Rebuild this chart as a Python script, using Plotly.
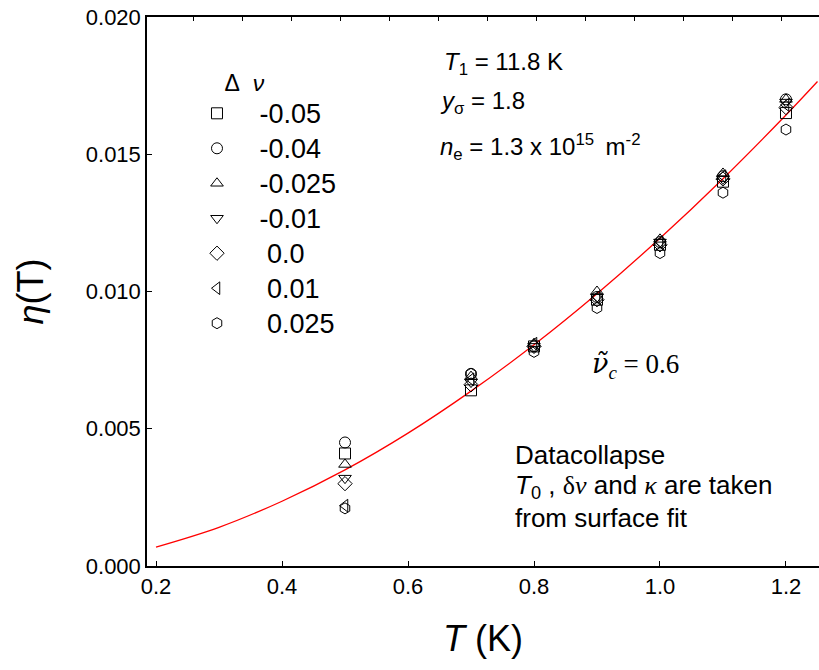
import plotly.graph_objects as go

# Temperatures at which eta(T) was collapsed
T = [0.5, 0.7, 0.8, 0.9, 1.0, 1.1, 1.2]

# Filling-factor offsets and the collapsed eta(T) values for each
dnu_labels = ["-0.05", "-0.04", "-0.025", "-0.01", "0.0", "0.01", "0.025"]
eta_m005 = [0.0041, 0.0064, 0.0080, 0.0097, 0.0117, 0.0140, 0.0165]
eta_m004 = [0.0045, 0.0070, 0.0080, 0.0098, 0.0118, 0.0142, 0.0170]
eta_m0025 = [0.0037, 0.0069, 0.0081, 0.0100, 0.0119, 0.0143, 0.0170]
eta_m001 = [0.0032, 0.0067, 0.0080, 0.0098, 0.0118, 0.0141, 0.0169]
eta_0 = [0.0030, 0.0066, 0.0080, 0.0097, 0.0117, 0.0141, 0.0167]
eta_p001 = [0.0022, 0.0068, 0.0081, 0.0098, 0.0118, 0.0142, 0.0168]
eta_p0025 = [0.0021, 0.0070, 0.0078, 0.0094, 0.0114, 0.0136, 0.0159]

# Fitted curve
fit_T = [0.2, 0.3, 0.4, 0.5, 0.6, 0.7, 0.8, 0.9, 1.0, 1.1, 1.2, 1.25]
fit_eta = [0.00069, 0.00141, 0.00236, 0.00350, 0.00484, 0.00637,
           0.00806, 0.00992, 0.01194, 0.01411, 0.01643, 0.01765]

series = [eta_m005, eta_m004, eta_m0025, eta_m001, eta_0, eta_p001, eta_p0025]
symbols = ["square-open", "circle-open", "triangle-up-open", "triangle-down-open",
           "diamond-open", "triangle-left-open", "hexagon-open"]
pads = [3, 3, 3, 3, 4, 4, 4]

FONT = "Liberation Sans, Arial, sans-serif"
SERIF = "Liberation Serif, Times New Roman, serif"

fig = go.Figure()

fig.add_trace(go.Scatter(x=fit_T, y=fit_eta, mode="lines", line=dict(color="red", width=1.3),
                         line_shape="spline", showlegend=False, hoverinfo="skip"))

for vals, sym, lab, pad in zip(series, symbols, dnu_labels, pads):
    fig.add_trace(go.Scatter(
        x=T, y=vals, mode="markers",
        name="<span style='font-size:27px'>" + "\u00a0" * pad + lab + "</span>",
        marker=dict(symbol=sym, size=11, color="black", line=dict(width=1, color="black")),
    ))

# invisible trace carrying the top axis
fig.add_trace(go.Scatter(x=[0, 13.714], y=[0, 0], xaxis="x2", mode="markers",
                         marker=dict(opacity=0), showlegend=False, hoverinfo="skip"))

fig.update_layout(
    width=819, height=670,
    margin=dict(l=147, r=0, t=17, b=104),
    paper_bgcolor="white", plot_bgcolor="white",
    font=dict(family=FONT, color="black", size=22),
    xaxis=dict(range=[0.1857, 1.2524], tickvals=[0.2, 0.4, 0.6, 0.8, 1.0, 1.2],
               ticktext=["0.2", "0.4", "0.6", "0.8", "1.0", "1.2"],
               showline=True, linecolor="black", linewidth=1.5, ticks="inside", ticklen=5,
               tickcolor="black", showgrid=False, zeroline=False,
               tickfont=dict(size=22)),
    xaxis2=dict(range=[0, 13.714], overlaying="x", side="top", tick0=0.939, dtick=1,
                showline=True, linecolor="black", linewidth=1.5, ticks="inside", ticklen=4,
                tickcolor="black", showticklabels=False, showgrid=False, zeroline=False),
    yaxis=dict(range=[0, 0.020], tickvals=[0, 0.005, 0.010, 0.015, 0.020],
               ticktext=["0.000", "0.005", "0.010", "0.015", "0.020"],
               showline=True, linecolor="black", linewidth=1.5, ticks="inside", ticklen=5,
               tickcolor="black", showgrid=False, zeroline=False,
               tickfont=dict(size=22)),
    legend=dict(x=0.0744, y=0.92, xanchor="left", yanchor="top",
                bgcolor="rgba(0,0,0,0)", borderwidth=0,
                font=dict(size=24.6, family=FONT),
                title=dict(text="\u00a0\u00a0\u00a0\u00a0\u0394\u00a0\u00a0<i>\u03bd</i>",
                           font=dict(size=23, family=FONT))),
    showlegend=True,
)

greek = "font-family:Liberation Serif, Times New Roman, serif"
ann = [
    dict(text="<i>\u03b7</i>(T)", xref="paper", yref="paper", x=0, y=0.5,
         xshift=-117, xanchor="center", yanchor="middle", textangle=-90,
         font=dict(size=36), showarrow=False),
    dict(text="<i>T</i> (K)", xref="paper", yref="paper", x=0.5, y=0,
         yshift=-72, xanchor="center", yanchor="middle", font=dict(size=36), showarrow=False),
    dict(text="<i>T</i><sub>1</sub> = 11.8 K", x=0.654, y=0.01832, xanchor="left",
         font=dict(size=24)),
    dict(text="<i>y</i><sub>\u03c3</sub> = 1.8", x=0.648, y=0.01687, xanchor="left",
         font=dict(size=24)),
    dict(text="<i>n</i><sub>e</sub> = 1.3 x 10<sup>15</sup> \u2009m<sup>-2</sup>",
         x=0.648, y=0.01526, xanchor="left", font=dict(size=24)),
    dict(text="<span style='font-family:DejaVu Serif'><i>\u03bd\u0303</i></span>"
              "<sub><i>c</i></sub> = 0.6", x=0.889, y=0.00732,
         xanchor="left", font=dict(family=SERIF, size=27)),
    dict(text="Datacollapse", x=0.7667, y=0.00404, xanchor="left"),
    dict(text="<i>T</i><sub>0</sub> , <span style='" + greek + "'>\u03b4<i>\u03bd</i></span>"
              " and <span style='" + greek + "'><i>\u03ba</i></span> are taken",
         x=0.7667, y=0.00288, xanchor="left"),
    dict(text="from surface fit", x=0.7667, y=0.00175, xanchor="left"),
]
for a in ann:
    a.setdefault("xref", "x")
    a.setdefault("yref", "y")
    a.setdefault("showarrow", False)
    a.setdefault("font", dict(size=26))
    fig.add_annotation(**a)

fig.write_html("out.html")
